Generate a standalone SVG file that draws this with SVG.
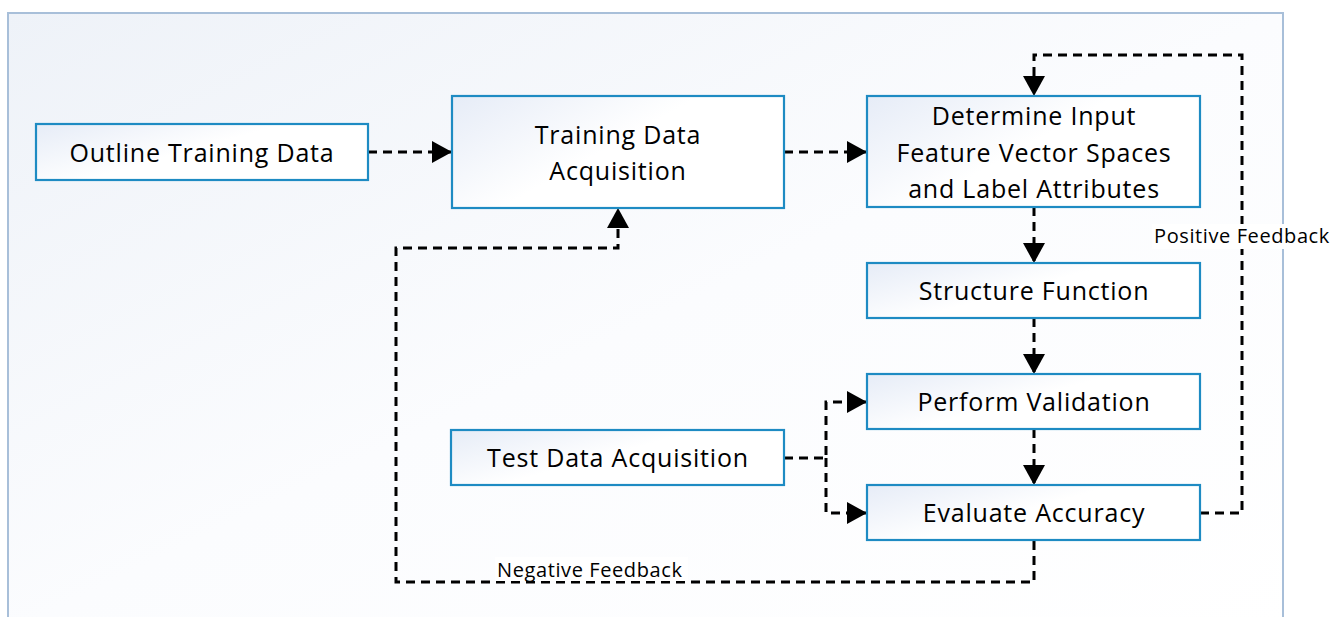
<svg xmlns="http://www.w3.org/2000/svg" width="1337" height="617" viewBox="0 0 1337 617">
  <defs>
    <linearGradient id="bg" x1="0" y1="0" x2="1" y2="1">
      <stop offset="0" stop-color="#eef2f8"/>
      <stop offset="0.5" stop-color="#fbfcfe"/>
      <stop offset="1" stop-color="#ffffff"/>
    </linearGradient>
    <linearGradient id="boxfill" x1="0" y1="0" x2="1" y2="0.6">
      <stop offset="0" stop-color="#e6ecf7"/>
      <stop offset="0.55" stop-color="#ffffff"/>
      <stop offset="1" stop-color="#ffffff"/>
    </linearGradient>
    <marker id="arr" markerUnits="userSpaceOnUse" markerWidth="22" markerHeight="22" refX="20" refY="11" orient="auto">
      <path d="M0,0 L20,11 L0,22 Z" fill="#000"/>
    </marker>
    <style>
      .box { fill: url(#boxfill); stroke: #1e8bc3; stroke-width: 2.2; }
      .lbl { font-family: "Open Sans", "Liberation Sans", sans-serif; font-size: 25px; fill: #000; text-anchor: middle; letter-spacing: 0.8px; }
      .fb { font-family: "Open Sans", "Liberation Sans", sans-serif; font-size: 20px; fill: #000; letter-spacing: 0.6px; }
      .conn { fill: none; stroke: #000; stroke-width: 3; stroke-dasharray: 9 6; }
    </style>
  </defs>

  <rect x="0" y="0" width="1337" height="617" fill="#ffffff"/>
  <rect id="frame" x="8" y="13" width="1275" height="620" fill="url(#bg)" stroke="#a8bfd9" stroke-width="2"/>

  <g id="connectors">
    <path class="conn" d="M368,152 L452,152" marker-end="url(#arr)"/>
    <path class="conn" d="M784,152 L867,152" marker-end="url(#arr)"/>
    <path class="conn" d="M1034,207 L1034,263" marker-end="url(#arr)"/>
    <path class="conn" d="M1034,318 L1034,374" marker-end="url(#arr)"/>
    <path class="conn" d="M1034,429 L1034,485" marker-end="url(#arr)"/>
    <path class="conn" d="M784,458 L826,458 L826,402 L867,402" marker-end="url(#arr)"/>
    <path class="conn" d="M826,458 L826,513 L867,513" marker-end="url(#arr)"/>
    <path class="conn" d="M1200,513 L1242,513 L1242,55 L1034,55 L1034,96" marker-end="url(#arr)"/>
    <path class="conn" d="M1034,541 L1034,582 L396,582 L396,248 L618,248 L618,208" marker-end="url(#arr)"/>
    <rect x="1152" y="224" width="184" height="25" fill="#ffffff"/>
    <text class="fb" x="1154" y="243">Positive Feedback</text>
    <rect x="495" y="557" width="193" height="24" fill="#ffffff"/>
    <text class="fb" x="497" y="577">Negative Feedback</text>
  </g>

  <g id="outline-training-data">
    <rect class="box" x="36" y="124" width="332" height="56"/>
    <text class="lbl" x="202" y="162">Outline Training Data</text>
  </g>
  <g id="training-data-acquisition">
    <rect class="box" x="452" y="96" width="332" height="112"/>
    <text class="lbl" x="618" y="144">Training Data</text>
    <text class="lbl" x="618" y="180">Acquisition</text>
  </g>
  <g id="determine-input">
    <rect class="box" x="867" y="96" width="333" height="111"/>
    <text class="lbl" x="1034" y="125">Determine Input</text>
    <text class="lbl" x="1034" y="162">Feature Vector Spaces</text>
    <text class="lbl" x="1034" y="198">and Label Attributes</text>
  </g>
  <g id="structure-function">
    <rect class="box" x="867" y="263" width="333" height="55"/>
    <text class="lbl" x="1034" y="300">Structure Function</text>
  </g>
  <g id="perform-validation">
    <rect class="box" x="867" y="374" width="333" height="55"/>
    <text class="lbl" x="1034" y="411">Perform Validation</text>
  </g>
  <g id="test-data-acquisition">
    <rect class="box" x="451" y="430" width="333" height="55"/>
    <text class="lbl" x="618" y="467">Test Data Acquisition</text>
  </g>
  <g id="evaluate-accuracy">
    <rect class="box" x="867" y="485" width="333" height="55"/>
    <text class="lbl" x="1034" y="522">Evaluate Accuracy</text>
  </g>
</svg>
